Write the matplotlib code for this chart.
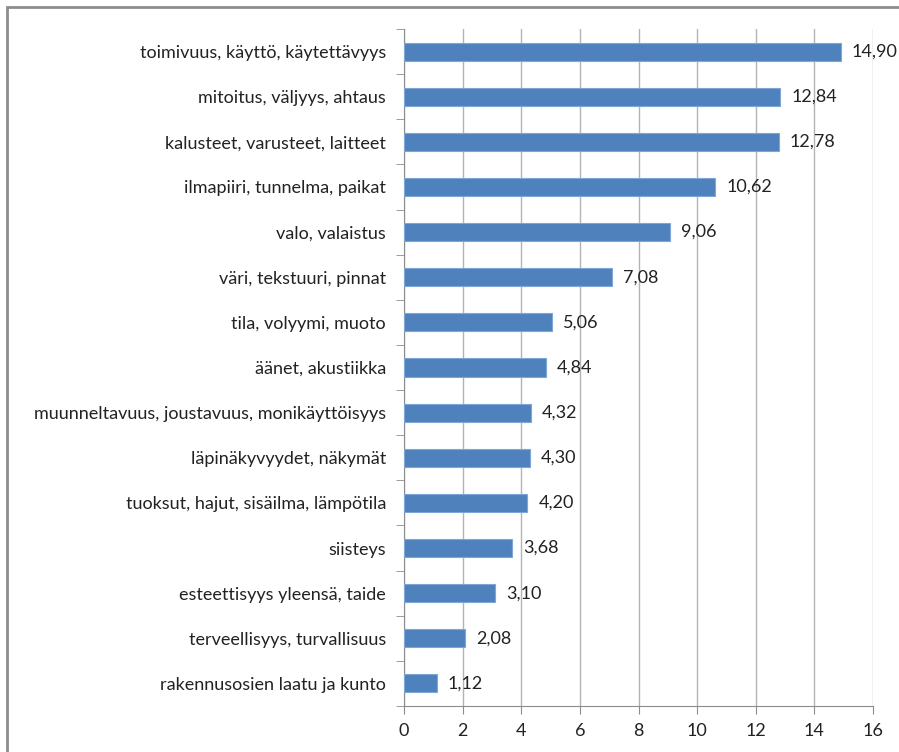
import matplotlib
matplotlib.use("Agg")
import matplotlib.pyplot as plt
from matplotlib.patches import Rectangle
import numpy as np

categories = [
    "toimivuus, käyttö, käytettävyys",
    "mitoitus, väljyys, ahtaus",
    "kalusteet, varusteet, laitteet",
    "ilmapiiri, tunnelma, paikat",
    "valo, valaistus",
    "väri, tekstuuri, pinnat",
    "tila, volyymi, muoto",
    "äänet, akustiikka",
    "muunneltavuus, joustavuus, monikäyttöisyys",
    "läpinäkyvyydet, näkymät",
    "tuoksut, hajut, sisäilma, lämpötila",
    "siisteys",
    "esteettisyys yleensä, taide",
    "terveellisyys, turvallisuus",
    "rakennusosien laatu ja kunto",
]
values = [14.90, 12.84, 12.78, 10.62, 9.06, 7.08, 5.06, 4.84,
          4.32, 4.30, 4.20, 3.68, 3.10, 2.08, 1.12]
xticks = [0, 2, 4, 6, 8, 10, 12, 14, 16]

plt.rcParams['font.family'] = ['Lato', 'DejaVu Sans']
fs = 13

fig = plt.figure(figsize=(8.99, 7.52), dpi=100)
ax = fig.add_axes([404 / 899, 1 - 706 / 752, (873 - 404) / 899, (706 - 29) / 752])

# outer frame of the chart area
fig.patches.append(Rectangle((7 / 899, -0.1), 1.2, 1 - 7 / 752 + 0.1,
                             transform=fig.transFigure, fill=False,
                             edgecolor="#8c8c8c", linewidth=2))

n = len(categories)
y = np.arange(n)[::-1]
ax.barh(y, values, height=0.4, color="#4f81bd", edgecolor="#7ea6d8",
        linewidth=0.8, zorder=3)

for yi, v in zip(y, values):
    ax.text(v + 0.38, yi, f"{v:.2f}".replace(".", ","), va="center",
            ha="left", fontsize=fs, color="#222222", zorder=4)

ax.set_xlim(0, 16)
ax.set_ylim(-0.5, n - 0.5)
ax.set_xticks(xticks)
ax.set_xticklabels([str(t) for t in xticks], fontsize=fs, color="#222222")
ax.set_yticks(y)
ax.set_yticklabels(categories, fontsize=fs, color="#222222")
ax.tick_params(axis="y", length=0, pad=13)
ax.set_yticks(np.arange(-0.5, n, 1.0), minor=True)
ax.tick_params(axis="y", which="minor", length=6, color="#8c8c8c")
ax.tick_params(axis="x", length=6, color="#8c8c8c", pad=6)

ax.grid(axis="x", color="#b3b3b3", linewidth=1, zorder=0)
for s in ["top", "right"]:
    ax.spines[s].set_visible(False)
for s in ["left", "bottom"]:
    ax.spines[s].set_color("#8c8c8c")

fig.savefig("out.png", dpi=100)
